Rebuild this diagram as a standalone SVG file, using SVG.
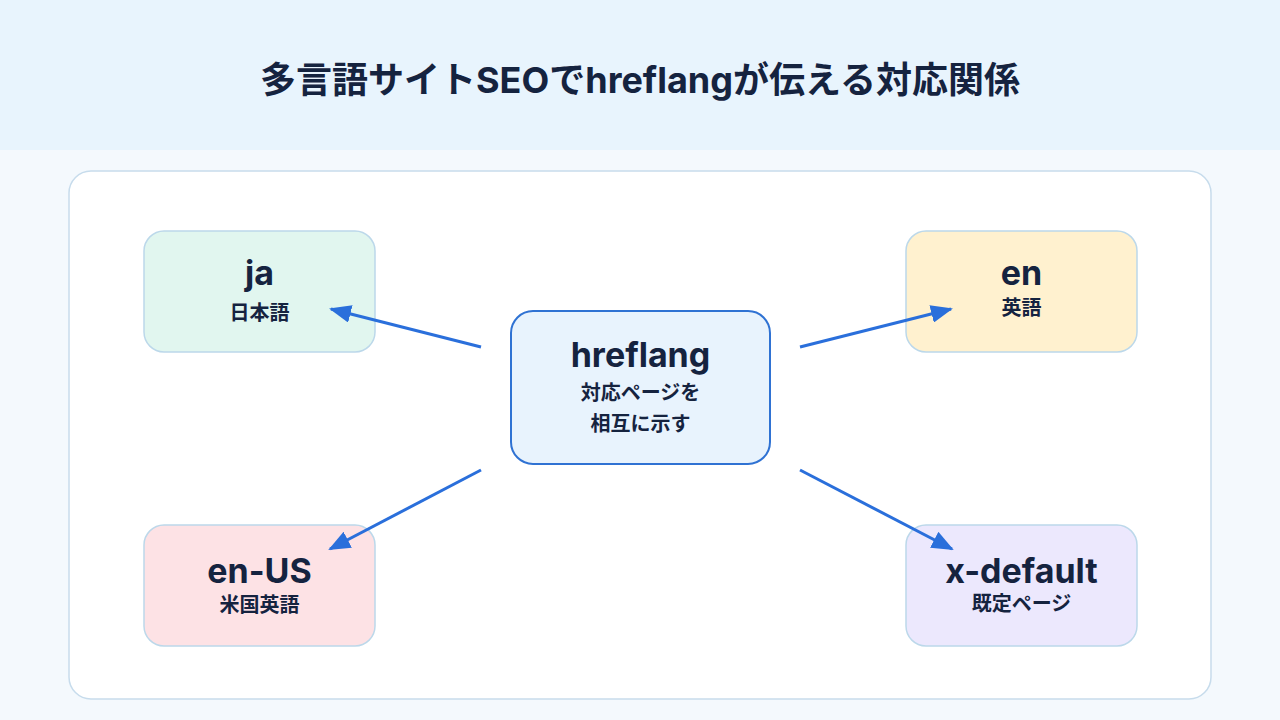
<svg xmlns="http://www.w3.org/2000/svg" width="1280" height="720" viewBox="0 0 1280 720">
<defs>
<style>
.t{font-family:Inter,"Noto Sans CJK JP",sans-serif;fill:#15233f;text-anchor:middle;font-weight:700}
.big{font-size:34px}
.sm{font-size:20px}
.node{stroke:#bcd8ea;stroke-width:1.5}
.conn{stroke:#2a6fdb;stroke-width:3;fill:none}
</style>
<marker id="ah" markerUnits="userSpaceOnUse" markerWidth="22" markerHeight="18" refX="20" refY="9" orient="auto">
<path d="M0,0 L22,9 L0,18 Z" fill="#2a6fdb"/>
</marker>
</defs>
<rect x="0" y="0" width="1280" height="720" fill="#f4f9fd"/>
<rect x="0" y="0" width="1280" height="150" fill="#e8f4fd"/>
<text class="t" x="640" y="93" style="font-size:36px">多言語サイトSEOでhreflangが伝える対応関係</text>
<rect x="69" y="171" width="1142" height="528" rx="22" fill="#ffffff" stroke="#c7dcec" stroke-width="1.5"/>
<g id="ja">
<rect class="node" x="144" y="231" width="231" height="121" rx="20" fill="#e1f6ef"/>
<text class="t big" x="259.5" y="285">ja</text>
<text class="t sm" x="259.5" y="320">日本語</text>
</g>
<g id="en">
<rect class="node" x="906" y="231" width="231" height="121" rx="20" fill="#fff1cf"/>
<text class="t big" x="1021.5" y="285">en</text>
<text class="t sm" x="1021.5" y="315">英語</text>
</g>
<g id="en-US">
<rect class="node" x="144" y="525" width="231" height="121" rx="20" fill="#fde2e5"/>
<text class="t big" x="259.5" y="583">en-US</text>
<text class="t sm" x="259.5" y="612">米国英語</text>
</g>
<g id="x-default">
<rect class="node" x="906" y="525" width="231" height="121" rx="20" fill="#ece8fd"/>
<text class="t big" x="1021.5" y="583">x-default</text>
<text class="t sm" x="1021.5" y="611">既定ページ</text>
</g>
<g id="hreflang">
<rect x="511" y="311" width="259" height="153" rx="22" fill="#e8f3fd" stroke="#2f72d3" stroke-width="2"/>
<text class="t big" x="640.5" y="367">hreflang</text>
<text class="t sm" x="640.5" y="400">対応ページを</text>
<text class="t sm" x="640.5" y="431">相互に示す</text>
</g>
<g id="connectors">
<line class="conn" x1="481" y1="347" x2="331" y2="309" marker-end="url(#ah)"/>
<line class="conn" x1="800" y1="347" x2="951" y2="309" marker-end="url(#ah)"/>
<line class="conn" x1="481" y1="470" x2="330" y2="549" marker-end="url(#ah)"/>
<line class="conn" x1="800" y1="470" x2="952" y2="549" marker-end="url(#ah)"/>
</g>
</svg>
